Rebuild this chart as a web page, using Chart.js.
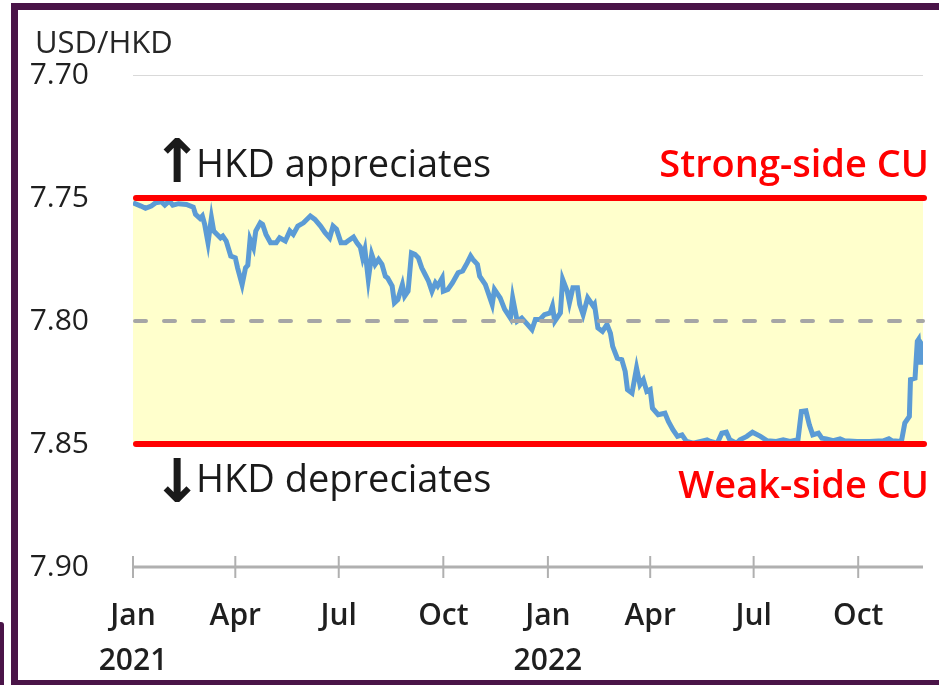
<!DOCTYPE html>
<html>
<head>
<meta charset="utf-8">
<script src="https://cdn.jsdelivr.net/npm/chart.js@4.4.1/dist/chart.umd.min.js"></script>
<style>
  html, body { margin: 0; padding: 0; background: #fff; overflow: hidden; }
  #wrap { position: relative; width: 939px; height: 685px; }
  #frame { position: absolute; left: 11px; top: 3px; width: 1000px; height: 670px;
           border: 7px solid #4a1448; border-bottom-width: 5px; }
  #corner { position: absolute; left: 0; top: 622px; width: 4px; height: 63px;
            background: #4a1448; border-top-right-radius: 3px; }
  #chart { position: absolute; left: 0; top: 0; }
</style>
</head>
<body>
<div id="wrap">
  <div id="frame"></div>
  <div id="corner"></div>
  <canvas id="chart" width="939" height="685"></canvas>
</div>
<script>
// days since 1 Jan 2021
const days = [
  0, 7, 11, 16, 20, 25, 28, 32, 35, 40, 47, 53, 55, 59, 61, 63, 66, 69, 71, 74,
  77, 79, 82, 86, 90, 92, 96, 99, 101, 103, 106, 108, 112, 114, 117, 121, 126, 129, 134, 138,
  141, 145, 150, 156, 160, 165, 169, 173, 176, 179, 183, 187, 189, 194, 197, 200, 202, 204, 207, 210,
  213, 216, 219, 222, 224, 228, 230, 233, 237, 239, 242, 245, 248, 251, 254, 257, 260, 263, 266, 268,
  272, 273, 277, 281, 286, 290, 294, 297, 299, 303, 305, 310, 312, 316, 318, 323, 327, 332, 334, 338,
  342, 347, 351, 354, 358, 362, 367, 369, 371, 376, 378, 382, 384, 387, 391, 393, 396, 400, 405, 406,
  409, 413, 417, 420, 422, 426, 430, 433, 435, 439, 443, 446, 449, 452, 455, 457, 462, 468, 471, 475,
  479, 483, 487, 493, 505, 508, 514, 518, 522, 525, 531, 534, 540, 545, 552, 558, 566, 572, 578, 585,
  588, 592, 595, 598, 603, 606, 610, 616, 622, 626, 637, 648, 660, 665, 668, 676, 679, 683, 684, 688,
  690, 691, 693, 694, 695
];
const usdHkd = [
  7.7519, 7.7533, 7.7542, 7.7533, 7.7519, 7.7515, 7.7529, 7.7512, 7.7529, 7.7523,
  7.7526, 7.7537, 7.7566, 7.7583, 7.7573, 7.7606, 7.7682, 7.7580, 7.7634, 7.7648,
  7.7662, 7.7655, 7.7675, 7.7736, 7.7743, 7.7784, 7.7852, 7.7784, 7.7773, 7.7668,
  7.7702, 7.7634, 7.7601, 7.7607, 7.7648, 7.7682, 7.7682, 7.7662, 7.7675, 7.7634,
  7.7648, 7.7614, 7.7601, 7.7573, 7.7587, 7.7614, 7.7641, 7.7662, 7.7614, 7.7627,
  7.7682, 7.7682, 7.7675, 7.7659, 7.7682, 7.7700, 7.7743, 7.7709, 7.7831, 7.7729,
  7.7770, 7.7750, 7.7770, 7.7818, 7.7825, 7.7858, 7.7926, 7.7913, 7.7852, 7.7899,
  7.7879, 7.7723, 7.7729, 7.7743, 7.7784, 7.7811, 7.7838, 7.7879, 7.7845, 7.7858,
  7.7825, 7.7879, 7.7872, 7.7845, 7.7804, 7.7797, 7.7764, 7.7736, 7.7750, 7.7770,
  7.7818, 7.7852, 7.7879, 7.7933, 7.7872, 7.7906, 7.7953, 7.7988, 7.7906, 7.8001,
  7.7988, 7.8014, 7.8035, 7.7994, 7.7994, 7.7974, 7.7967, 7.7940, 7.8001, 7.7967,
  7.7831, 7.7879, 7.7926, 7.7865, 7.7865, 7.7933, 7.7974, 7.7906, 7.7940, 7.7933,
  7.8028, 7.8042, 7.8014, 7.8049, 7.8103, 7.8151, 7.8157, 7.8205, 7.8279, 7.8293,
  7.8191, 7.8259, 7.8239, 7.8286, 7.8279, 7.8354, 7.8381, 7.8375, 7.8408, 7.8442,
  7.8469, 7.8463, 7.8490, 7.8497, 7.8483, 7.8490, 7.8497, 7.8456, 7.8452, 7.8483,
  7.8497, 7.8483, 7.8469, 7.8452, 7.8469, 7.8487, 7.8490, 7.8483, 7.8490, 7.8483,
  7.8368, 7.8365, 7.8422, 7.8463, 7.8456, 7.8476, 7.8479, 7.8486, 7.8479, 7.8487,
  7.8490, 7.8490, 7.8487, 7.8479, 7.8487, 7.8490, 7.8415, 7.8388, 7.8238, 7.8232,
  7.8083, 7.8076, 7.8177, 7.8096, 7.8103
];

const tickDays = [0, 90, 181, 273, 365, 455, 546, 638];
const tickMonths = ['Jan', 'Apr', 'Jul', 'Oct', 'Jan', 'Apr', 'Jul', 'Oct'];
const tickYears = ['2021', '', '', '', '2022', '', '', ''];
const yTicks = [7.70, 7.75, 7.80, 7.85, 7.90];

const strongSide = 7.75;
const weakSide = 7.85;
const midRate = 7.80;

const FONT = '"Open Sans", "Noto Sans", sans-serif';

const peg = {
    id: 'peg',
    beforeDatasetsDraw(chart) {
        const { ctx, chartArea: a, scales: { y } } = chart;
        const t = y.getPixelForValue(strongSide);
        const b = y.getPixelForValue(weakSide);
        ctx.save();
        ctx.fillStyle = '#ffffcc';
        ctx.fillRect(a.left, t, a.right - a.left, b - t);
        ctx.restore();
    },
    afterDatasetsDraw(chart) {
        const { ctx, chartArea: a, scales: { x, y } } = chart;
        ctx.save();
        // 7.80 dashed
        const ym = y.getPixelForValue(midRate);
        ctx.strokeStyle = '#a6a6a6';
        ctx.lineWidth = 4;
        ctx.lineCap = 'round';
        ctx.setLineDash([11, 18]);
        ctx.beginPath();
        ctx.moveTo(a.left + 2, ym);
        ctx.lineTo(a.right, ym);
        ctx.stroke();
        ctx.setLineDash([]);

        // convertibility undertakings
        ctx.strokeStyle = '#ff0000';
        ctx.lineWidth = 6;
        [strongSide, weakSide].forEach(v => {
            const yy = y.getPixelForValue(v);
            ctx.beginPath();
            ctx.moveTo(a.left + 3, yy);
            ctx.lineTo(a.right + 1, yy);
            ctx.stroke();
        });

        // x axis line + ticks
        ctx.strokeStyle = '#b0b0b0';
        ctx.lineCap = 'butt';
        ctx.lineWidth = 3;
        ctx.beginPath();
        ctx.moveTo(a.left - 1, a.bottom);
        ctx.lineTo(a.right, a.bottom);
        ctx.stroke();
        ctx.lineWidth = 2;
        x.ticks.forEach(t => {
            const xx = x.getPixelForValue(t.value);
            ctx.beginPath();
            ctx.moveTo(xx, a.bottom - 11);
            ctx.lineTo(xx, a.bottom + 11);
            ctx.stroke();
        });
        ctx.restore();
    },
    afterDraw(chart) {
        const { ctx } = chart;
        ctx.save();
        ctx.textBaseline = 'alphabetic';
        ctx.fillStyle = '#262626';
        ctx.font = '31px ' + FONT;
        ctx.textAlign = 'left';
        ctx.fillText('USD/HKD', 35, 53);

        ctx.fillStyle = '#1a1a1a';
        ctx.font = '500 38px ' + FONT;
        ctx.fillText('HKD appreciates', 196, 177);
        ctx.fillText('HKD depreciates', 196, 492);

        ctx.textAlign = 'center';
        ctx.font = 'bold 60px "DejaVu Sans"';
        ctx.fillText('\u2191', 177, 182);
        ctx.fillText('\u2193', 177, 502);

        ctx.fillStyle = '#ff0000';
        ctx.textAlign = 'right';
        ctx.font = '600 38px ' + FONT;
        ctx.fillText('Strong-side CU', 929, 177);
        ctx.fillText('Weak-side CU', 929, 498);
        ctx.restore();
    }
};

new Chart(document.getElementById('chart'), {
    type: 'line',
    data: {
        datasets: [{
            data: days.map((d, i) => ({ x: d, y: usdHkd[i] })),
            borderColor: '#5b9bd5',
            borderWidth: 5,
            pointRadius: 0,
            tension: 0,
            fill: false
        }]
    },
    options: {
        responsive: false,
        animation: false,
        layout: { padding: { left: 0, right: 16, top: 75, bottom: 0 } },
        plugins: { legend: { display: false }, tooltip: { enabled: false } },
        scales: {
            x: {
                type: 'linear',
                min: 0,
                max: 695,
                afterBuildTicks: s => { s.ticks = tickDays.map(v => ({ value: v })); },
                afterFit: s => { s.height = 118; },
                grid: { display: false },
                border: { display: false },
                ticks: {
                    autoSkip: false,
                    maxRotation: 0,
                    padding: 19,
                    color: '#1f1f1f',
                    font: { family: FONT, size: 30, weight: '600', lineHeight: 1.5 },
                    callback: (v, i) => tickYears[i] ? [tickMonths[i], tickYears[i]] : tickMonths[i]
                }
            },
            y: {
                reverse: true,
                min: 7.70,
                max: 7.90,
                afterBuildTicks: s => { s.ticks = yTicks.map(v => ({ value: v })); },
                afterFit: s => { s.width = 133; },
                grid: {
                    drawTicks: false,
                    lineWidth: 1,
                    color: c => c.index === 0 ? '#d9d9d9' : 'rgba(0,0,0,0)'
                },
                border: { display: false },
                ticks: {
                    padding: 44,
                    color: '#1f1f1f',
                    font: { family: FONT, size: 30, weight: '500' },
                    callback: v => v.toFixed(2)
                }
            }
        }
    },
    plugins: [peg]
});
</script>
</body>
</html>
